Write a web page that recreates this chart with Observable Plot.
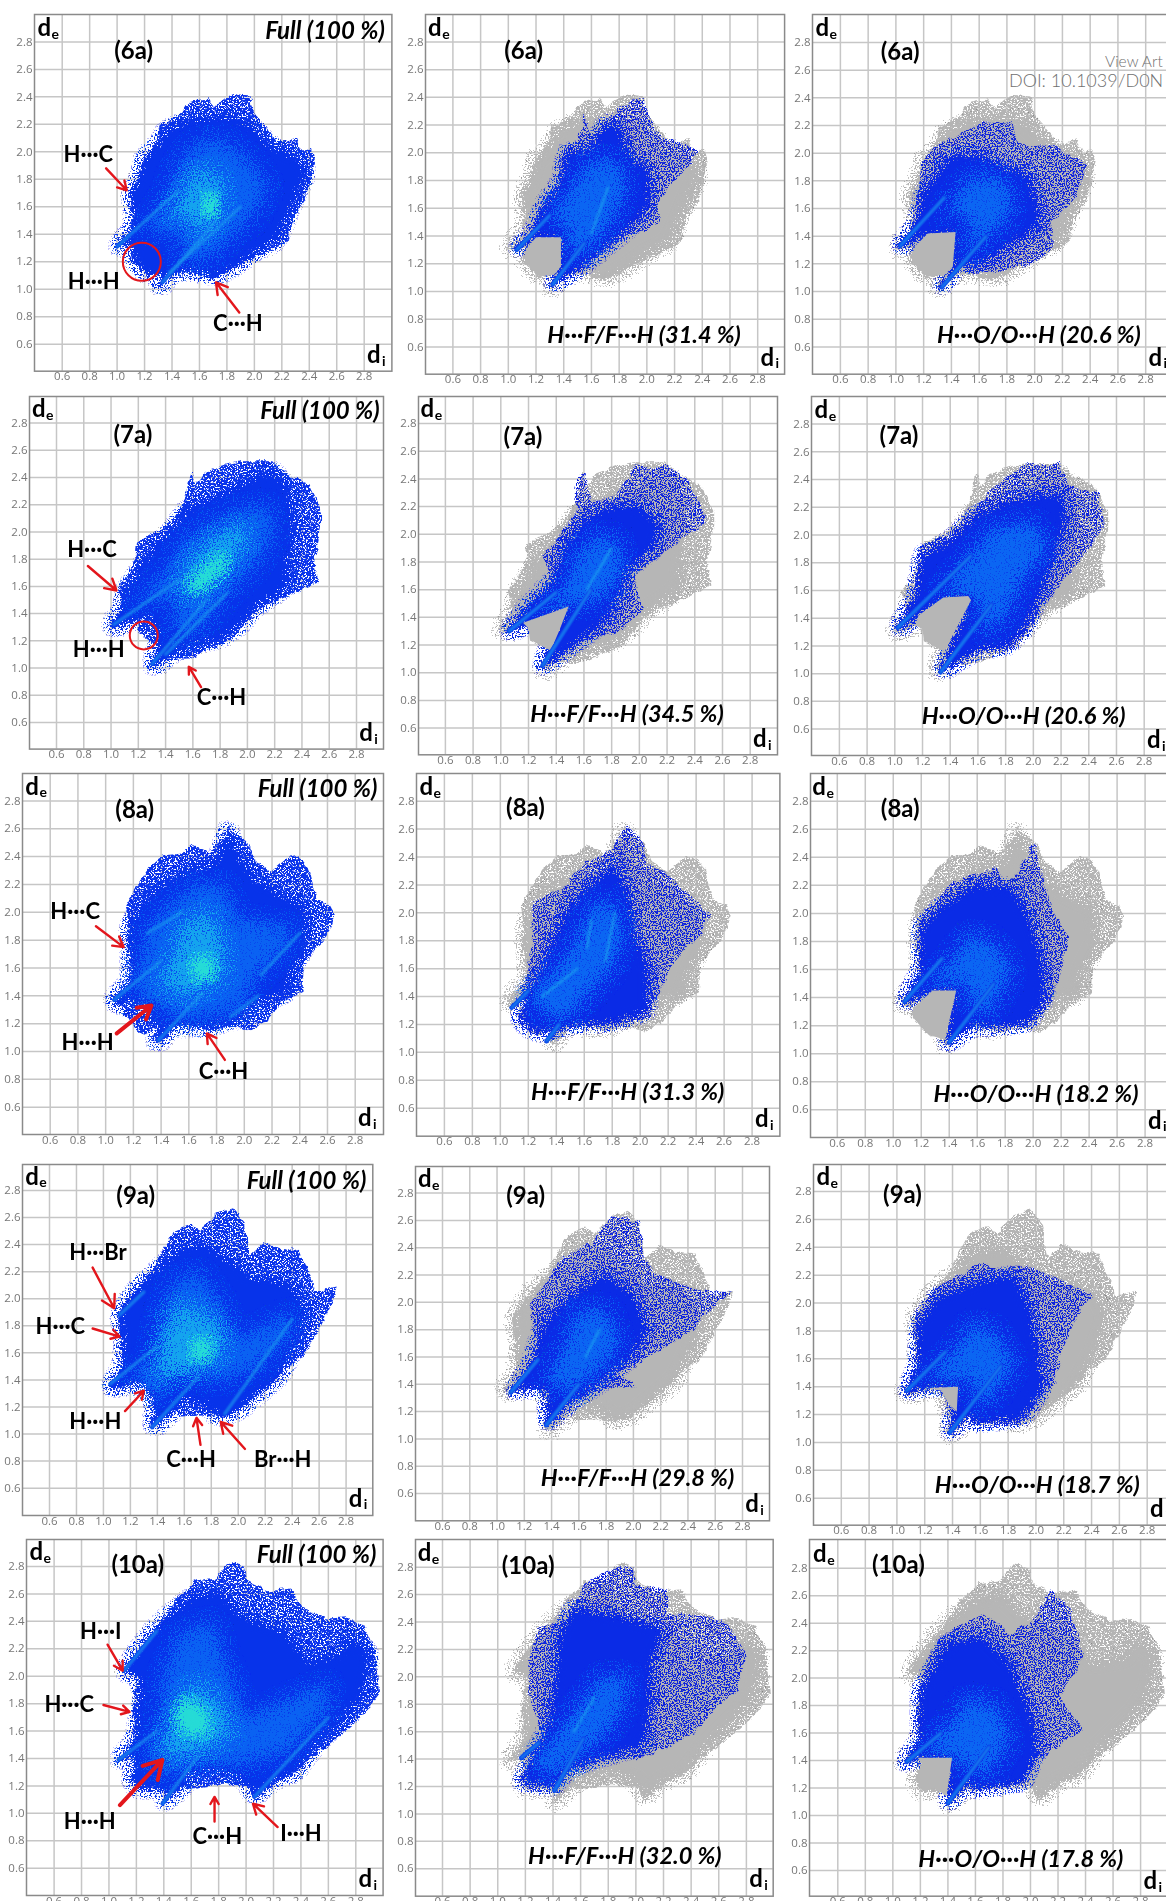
<!DOCTYPE html>
<html><head><meta charset="utf-8">
<script src="https://cdn.jsdelivr.net/npm/d3@7"></script>
<script src="https://cdn.jsdelivr.net/npm/@observablehq/plot@0.6"></script>
<style>
html,body{margin:0;padding:0;background:#fff;overflow:hidden}
#root{position:relative;width:1166px;height:1901px;overflow:hidden;background:#fff}
#root>svg.p{position:absolute;filter:blur(0.35px)}
.wm{position:absolute;font-family:Lato,sans-serif;font-weight:300;color:#6f6f6f;white-space:nowrap}
</style></head><body>
<svg width="0" height="0" style="position:absolute">
<defs>
<filter id="holes" x="-8%" y="-8%" width="116%" height="116%" color-interpolation-filters="sRGB">
<feTurbulence type="fractalNoise" baseFrequency="0.13" numOctaves="2" seed="4" result="d"/>
<feDisplacementMap in="SourceGraphic" in2="d" scale="6" xChannelSelector="R" yChannelSelector="G" result="s"/>
<feTurbulence type="fractalNoise" baseFrequency="0.62" numOctaves="2" seed="7" result="n"/>
<feColorMatrix in="n" type="matrix" values="0 0 0 0 0 0 0 0 0 0 0 0 0 0 0 14 0 0 0 -5.4" result="m"/>
<feComposite in="s" in2="m" operator="in"/>
</filter>
<filter id="dots" x="-8%" y="-8%" width="116%" height="116%" color-interpolation-filters="sRGB">
<feTurbulence type="fractalNoise" baseFrequency="0.1" numOctaves="2" seed="9" result="d"/>
<feDisplacementMap in="SourceGraphic" in2="d" scale="7" xChannelSelector="R" yChannelSelector="G" result="s"/>
<feTurbulence type="fractalNoise" baseFrequency="0.75" numOctaves="2" seed="11" result="n"/>
<feColorMatrix in="n" type="matrix" values="0 0 0 0 0 0 0 0 0 0 0 0 0 0 0 0 16 0 0 -7.7" result="m"/>
<feComposite in="s" in2="m" operator="in"/>
</filter>
<filter id="grain7" x="-25%" y="-25%" width="150%" height="150%" color-interpolation-filters="sRGB">
<feGaussianBlur in="SourceAlpha" stdDeviation="8" result="b"/>
<feTurbulence type="fractalNoise" baseFrequency="0.8" numOctaves="2" seed="3" result="t"/>
<feColorMatrix in="t" type="matrix" values="0 0 0 0 0 0 0 0 0 0 0 0 0 0 0 3.4 0 0 0 -1.2" result="n"/>
<feComposite in="b" in2="n" operator="arithmetic" k1="0" k2="6" k3="6" k4="-5.5" result="m"/>
<feGaussianBlur in="SourceGraphic" stdDeviation="8" result="c"/>
<feColorMatrix in="c" type="matrix" values="1 0 0 0 0 0 1 0 0 0 0 0 1 0 0 0 0 0 60 0" result="cc"/>
<feComposite in="cc" in2="m" operator="in"/>
</filter>
<filter id="grain4" x="-25%" y="-25%" width="150%" height="150%" color-interpolation-filters="sRGB">
<feGaussianBlur in="SourceAlpha" stdDeviation="5" result="b"/>
<feTurbulence type="fractalNoise" baseFrequency="0.7" numOctaves="2" seed="5" result="t"/>
<feColorMatrix in="t" type="matrix" values="0 0 0 0 0 0 0 0 0 0 0 0 0 0 0 0 3.4 0 0 -1.2" result="n"/>
<feComposite in="b" in2="n" operator="arithmetic" k1="0" k2="6" k3="6" k4="-4.2" result="m"/>
<feGaussianBlur in="SourceGraphic" stdDeviation="5" result="c"/>
<feColorMatrix in="c" type="matrix" values="1 0 0 0 0 0 1 0 0 0 0 0 1 0 0 0 0 0 60 0" result="cc"/>
<feComposite in="cc" in2="m" operator="in"/>
</filter>
</defs></svg>
<div id="root"></div>
<script>
const tickValues=[0.6,0.8,1.0,1.2,1.4,1.6,1.8,2.0,2.2,2.4,2.6,2.8];
const compounds=["(6a)","(7a)","(8a)","(9a)","(10a)"];
const ffLabels=["H···F/F···H (31.4 %)","H···F/F···H (34.5 %)","H···F/F···H (31.3 %)","H···F/F···H (29.8 %)","H···F/F···H (32.0 %)"];
const ooLabels=["H···O/O···H (20.6 %)","H···O/O···H (20.6 %)","H···O/O···H (18.2 %)","H···O/O···H (18.7 %)","H···O/O···H (17.8 %)"];

// Fingerprint outlines, [di, de]
const outline6a=[[.99,1.31],[1.11,1.43],[1.11,1.55],[1.10,1.65],[1.09,1.72],[1.13,1.77],[1.18,1.87],[1.2,1.96],[1.29,2.08],[1.32,2.2],[1.39,2.24],[1.46,2.27],[1.52,2.36],[1.66,2.39],[1.71,2.33],[1.8,2.4],[1.85,2.42],[1.97,2.41],[2.0,2.28],[2.12,2.14],[2.16,2.06],[2.3,2.1],[2.35,2.01],[2.42,2.02],[2.44,1.94],[2.41,1.82],[2.37,1.65],[2.29,1.53],[2.24,1.35],[2.07,1.26],[1.85,1.16],[1.73,1.09],[1.67,1.1],[1.5,1.13],[1.38,1.11],[1.31,1.0],[1.29,1.03],[1.33,1.11],[1.3,1.12],[1.22,1.1],[1.17,1.16],[1.11,1.2],[1.1,1.26],[1.13,1.32],[1.08,1.33],[1.04,1.3]];
const body6a=[[1.0,1.31],[1.12,1.44],[1.12,1.6],[1.1,1.7],[1.15,1.77],[1.2,1.95],[1.3,2.05],[1.36,2.15],[1.5,2.22],[1.7,2.25],[1.85,2.25],[1.95,2.2],[2.1,2.05],[2.3,1.95],[2.38,1.85],[2.3,1.7],[2.22,1.5],[2.15,1.35],[2.0,1.28],[1.85,1.17],[1.72,1.1],[1.5,1.14],[1.38,1.11],[1.32,1.02],[1.3,1.04],[1.34,1.12],[1.23,1.11],[1.12,1.21],[1.12,1.3],[1.08,1.34],[1.04,1.31]];
const mid6a=[[1.2,1.45],[1.35,1.65],[1.42,1.85],[1.55,2.05],[1.75,2.1],[1.95,1.95],[2.1,1.75],[2.0,1.55],[1.85,1.4],[1.7,1.25],[1.55,1.2],[1.45,1.2],[1.5,1.4],[1.35,1.4]];
const core6a=[[1.38,1.55],[1.5,1.7],[1.55,1.85],[1.7,1.85],[1.78,1.72],[1.72,1.5],[1.6,1.4],[1.55,1.5],[1.45,1.55]];
const hot6a=[[1.66,1.68],[1.73,1.66],[1.7,1.55],[1.63,1.55],[1.64,1.64]];
const streaks6a=[[1.0,1.31,1.45,1.72],[1.33,1.05,1.72,1.5],[1.38,1.12,1.9,1.6]];

const outline7a=[[.99,1.32],[1.07,1.41],[1.08,1.51],[1.05,1.58],[1.12,1.68],[1.18,1.82],[1.19,1.92],[1.34,2.01],[1.44,2.07],[1.54,2.24],[1.59,2.45],[1.62,2.36],[1.69,2.44],[1.86,2.5],[1.95,2.52],[2.07,2.52],[2.18,2.52],[2.27,2.44],[2.46,2.34],[2.54,2.17],[2.54,2.04],[2.49,1.78],[2.52,1.63],[2.37,1.56],[2.07,1.43],[1.98,1.33],[1.88,1.2],[1.78,1.16],[1.66,1.11],[1.58,1.07],[1.48,1.07],[1.4,1.08],[1.32,1.0],[1.29,1.04],[1.35,1.16],[1.29,1.2],[1.21,1.24],[1.2,1.32],[1.27,1.38],[1.2,1.36],[1.14,1.34],[1.07,1.32],[1.03,1.28]];
const body7a=[[1.0,1.32],[1.08,1.42],[1.1,1.55],[1.2,1.7],[1.3,1.85],[1.44,2.0],[1.55,2.15],[1.65,2.2],[1.95,2.35],[2.18,2.45],[2.3,2.3],[2.33,2.1],[2.3,1.85],[2.28,1.6],[2.05,1.45],[1.95,1.33],[1.8,1.22],[1.6,1.18],[1.45,1.12],[1.32,1.01],[1.3,1.04],[1.35,1.16],[1.34,1.3],[1.27,1.38],[1.2,1.36],[1.08,1.33],[1.03,1.29]];
const mid7a=[[1.15,1.45],[1.4,1.7],[1.5,1.9],[1.7,2.05],[1.9,2.15],[2.15,2.2],[2.2,2.0],[2.05,1.75],[1.85,1.55],[1.7,1.35],[1.5,1.2],[1.45,1.4],[1.55,1.5],[1.35,1.5]];
const core7a=[[1.5,1.6],[1.6,1.8],[1.75,1.95],[1.95,2.05],[2.0,1.95],[1.85,1.75],[1.7,1.6],[1.6,1.5]];
const hot7a=[[1.58,1.62],[1.65,1.68],[1.8,1.82],[1.84,1.76],[1.7,1.62],[1.62,1.57]];
const streaks7a=[[1.02,1.32,1.5,1.65],[1.3,1.03,1.7,1.5],[1.4,1.1,1.85,1.55]];

const outline8a=[[1.05,1.37],[1.18,1.5],[1.18,1.69],[1.15,1.76],[1.17,1.88],[1.15,2.03],[1.2,2.15],[1.3,2.31],[1.42,2.41],[1.54,2.42],[1.62,2.49],[1.75,2.43],[1.85,2.52],[1.9,2.64],[1.91,2.57],[2.02,2.52],[2.09,2.36],[2.19,2.29],[2.31,2.39],[2.39,2.41],[2.47,2.31],[2.52,2.1],[2.61,2.05],[2.65,1.98],[2.6,1.83],[2.43,1.64],[2.42,1.43],[2.28,1.36],[2.14,1.21],[2.02,1.15],[1.95,1.18],[1.78,1.16],[1.72,1.15],[1.68,1.19],[1.51,1.19],[1.42,1.09],[1.37,1.05],[1.36,1.08],[1.32,1.08],[1.38,1.17],[1.27,1.12],[1.21,1.17],[1.13,1.26],[1.13,1.32],[1.19,1.39],[1.12,1.33],[1.07,1.35]];
const body8a=[[1.05,1.37],[1.18,1.5],[1.18,1.7],[1.17,1.88],[1.25,2.05],[1.4,2.2],[1.6,2.3],[1.8,2.35],[1.88,2.6],[1.95,2.4],[2.1,2.2],[2.3,2.1],[2.42,2.05],[2.45,1.8],[2.35,1.6],[2.3,1.42],[2.05,1.35],[1.95,1.25],[1.72,1.17],[1.5,1.2],[1.37,1.06],[1.36,1.09],[1.42,1.2],[1.3,1.3],[1.25,1.38],[1.19,1.39],[1.12,1.33]];
const mid8a=[[1.2,1.42],[1.3,1.88],[1.45,2.05],[1.65,2.2],[1.85,2.2],[1.95,1.95],[2.35,1.9],[2.3,1.75],[2.05,1.5],[2.0,1.3],[1.75,1.25],[1.55,1.22],[1.35,1.35]];
const core8a=[[1.4,1.5],[1.5,1.7],[1.55,1.9],[1.75,2.0],[1.85,1.75],[1.85,1.55],[1.7,1.45],[1.55,1.4]];
const hot8a=[[1.62,1.62],[1.72,1.68],[1.78,1.58],[1.68,1.52]];
const streaks8a=[[1.06,1.37,1.4,1.65],[1.3,1.85,1.55,2.0],[1.38,1.08,1.7,1.42],[2.12,1.55,2.4,1.85],[1.9,1.25,2.1,1.4]];

const outline9a=[[1.05,1.36],[1.14,1.48],[1.13,1.63],[1.12,1.75],[1.11,1.88],[1.17,1.98],[1.25,2.07],[1.37,2.22],[1.45,2.37],[1.52,2.5],[1.65,2.55],[1.72,2.5],[1.76,2.55],[1.84,2.63],[1.96,2.67],[2.05,2.56],[2.08,2.32],[2.19,2.42],[2.3,2.37],[2.45,2.36],[2.55,2.13],[2.56,2.05],[2.73,2.09],[2.7,1.98],[2.6,1.78],[2.49,1.58],[2.38,1.51],[2.21,1.34],[1.96,1.15],[1.86,1.12],[1.84,1.14],[1.57,1.13],[1.52,1.18],[1.37,1.05],[1.34,1.08],[1.39,1.16],[1.36,1.27],[1.3,1.38],[1.22,1.38],[1.08,1.34]];
const body9a=[[1.05,1.36],[1.14,1.48],[1.15,1.63],[1.15,1.75],[1.12,1.88],[1.25,2.07],[1.4,2.2],[1.55,2.35],[1.75,2.4],[1.9,2.3],[2.1,2.15],[2.4,2.1],[2.5,1.9],[2.4,1.62],[2.3,1.43],[2.0,1.18],[1.85,1.13],[1.75,1.25],[1.55,1.25],[1.52,1.18],[1.38,1.05],[1.36,1.1],[1.39,1.16],[1.36,1.27],[1.3,1.38],[1.22,1.38],[1.08,1.34]];
const mid9a=[[1.2,1.45],[1.35,1.55],[1.4,1.8],[1.5,2.1],[1.7,2.2],[1.85,2.0],[2.0,1.7],[2.4,1.9],[2.4,1.75],[2.15,1.5],[1.9,1.4],[1.5,1.42],[1.45,1.25]];
const core9a=[[1.4,1.45],[1.45,1.75],[1.55,1.95],[1.75,1.9],[1.9,1.75],[1.85,1.55],[1.7,1.48],[1.5,1.42]];
const hot9a=[[1.65,1.6],[1.72,1.7],[1.8,1.63],[1.72,1.55]];
const streaks9a=[[1.05,1.37,1.4,1.65],[1.12,1.88,1.3,2.05],[1.36,1.05,1.7,1.42],[1.9,1.15,2.4,1.85]];

const outline10a=[[1.07,1.39],[1.18,1.51],[1.18,1.63],[1.18,1.85],[1.22,1.99],[1.18,2.03],[1.11,2.04],[1.26,2.26],[1.36,2.36],[1.48,2.55],[1.62,2.69],[1.77,2.71],[1.87,2.83],[1.99,2.8],[2.01,2.69],[2.16,2.62],[2.33,2.64],[2.42,2.5],[2.59,2.42],[2.74,2.43],[2.86,2.36],[2.94,2.18],[2.97,1.87],[2.84,1.7],[2.64,1.53],[2.47,1.41],[2.35,1.29],[2.25,1.25],[2.06,1.12],[2.01,1.19],[1.81,1.21],[1.57,1.18],[1.55,1.21],[1.39,1.07],[1.44,1.17],[1.28,1.19],[1.22,1.17],[1.16,1.26],[1.21,1.39],[1.15,1.42],[1.09,1.39]];
const body10a=[[1.07,1.39],[1.18,1.51],[1.2,1.6],[1.25,1.85],[1.22,2.0],[1.11,2.04],[1.3,2.3],[1.45,2.45],[1.62,2.58],[1.8,2.6],[1.95,2.45],[2.05,2.4],[2.3,2.3],[2.45,2.1],[2.7,2.15],[2.75,2.3],[2.9,2.15],[2.85,1.9],[2.75,1.75],[2.5,1.5],[2.35,1.3],[2.2,1.25],[2.06,1.13],[2.0,1.25],[1.85,1.3],[1.55,1.3],[1.55,1.21],[1.39,1.07],[1.44,1.17],[1.28,1.19],[1.22,1.17],[1.16,1.26],[1.21,1.39],[1.15,1.42],[1.09,1.39]];
const mid10a=[[1.25,1.45],[1.35,1.6],[1.4,2.0],[1.5,2.3],[1.75,2.4],[1.85,2.1],[2.0,1.7],[2.6,1.95],[2.6,1.75],[2.3,1.45],[2.0,1.35],[1.6,1.35],[1.45,1.25],[1.35,1.35]];
const core10a=[[1.4,1.45],[1.45,1.65],[1.55,1.85],[1.65,1.95],[1.8,1.8],[1.9,1.6],[1.7,1.47],[1.5,1.42]];
const hot10a=[[1.5,1.7],[1.55,1.82],[1.68,1.75],[1.72,1.6],[1.58,1.58]];
const streaks10a=[[1.11,2.04,1.35,2.33],[1.07,1.39,1.35,1.6],[1.39,1.07,1.65,1.42],[2.06,1.12,2.6,1.7]];

// H···F/F···H regions
const ffOuter6a=[[1.03,1.29],[1.17,1.44],[1.22,1.6],[1.3,1.72],[1.37,1.8],[1.38,2.0],[1.5,2.1],[1.55,2.27],[1.6,2.1],[1.68,2.2],[1.75,2.27],[1.8,2.32],[1.97,2.41],[2.02,2.25],[2.1,2.12],[2.25,2.07],[2.38,2.02],[2.3,1.9],[2.15,1.75],[2.07,1.62],[2.1,1.5],[2.02,1.45],[1.85,1.4],[1.7,1.3],[1.55,1.17],[1.3,1.03],[1.3,1.05],[1.38,1.18],[1.38,1.39],[1.2,1.39],[1.06,1.29]];
const ffBody6a=[[1.05,1.3],[1.18,1.42],[1.25,1.6],[1.38,1.78],[1.42,2.0],[1.6,2.02],[1.7,2.2],[1.78,2.22],[1.85,2.0],[2.02,1.85],[2.0,1.6],[1.85,1.45],[1.7,1.33],[1.52,1.18],[1.32,1.05],[1.38,1.2],[1.38,1.39],[1.2,1.39]];
const ffCore6a=[[1.3,1.55],[1.45,1.75],[1.6,1.95],[1.8,1.95],[1.85,1.75],[1.75,1.5],[1.62,1.35],[1.5,1.25],[1.42,1.3],[1.45,1.45],[1.35,1.5]];
const ffStreaks6a=[[1.06,1.3,1.3,1.55],[1.32,1.05,1.55,1.35],[1.6,1.42,1.72,1.75]];
const ffGap6a=[[1.2,1.39],[1.38,1.39],[1.38,1.18],[1.33,1.12],[1.22,1.11],[1.12,1.21],[1.12,1.28],[1.14,1.32]];

const ffOuter7a=[[1.03,1.28],[1.19,1.48],[1.37,1.65],[1.3,1.84],[1.41,1.97],[1.53,2.14],[1.55,2.4],[1.61,2.45],[1.65,2.25],[1.82,2.25],[1.97,2.5],[2.07,2.47],[2.2,2.5],[2.35,2.4],[2.49,2.1],[2.18,1.87],[1.97,1.72],[2.0,1.52],[2.04,1.46],[1.83,1.29],[1.58,1.22],[1.37,1.07],[1.28,1.03],[1.49,1.48],[1.44,1.46],[1.05,1.28]];
const ffBody7a=[[1.05,1.29],[1.2,1.48],[1.4,1.68],[1.45,1.9],[1.6,2.1],[1.8,2.2],[2.0,2.2],[2.15,2.05],[2.1,1.9],[1.9,1.75],[1.85,1.55],[1.75,1.38],[1.58,1.25],[1.38,1.1],[1.29,1.04],[1.49,1.5],[1.44,1.46]];
const ffCore7a=[[1.2,1.42],[1.45,1.6],[1.55,1.85],[1.7,2.0],[1.85,1.95],[1.88,1.75],[1.75,1.55],[1.62,1.5],[1.5,1.5]];
const ffStreaks7a=[[1.06,1.3,1.4,1.58],[1.3,1.05,1.65,1.6],[1.62,1.6,1.8,1.9]];
const ffGap7a=[[1.16,1.36],[1.44,1.46],[1.49,1.48],[1.42,1.3],[1.36,1.16],[1.28,1.2],[1.21,1.24],[1.2,1.32]];

const ffOuter8a=[[1.08,1.32],[1.16,1.43],[1.18,1.5],[1.21,1.65],[1.23,1.86],[1.23,2.08],[1.44,2.17],[1.61,2.36],[1.78,2.44],[1.9,2.62],[2.0,2.55],[2.07,2.33],[2.17,2.3],[2.38,2.1],[2.5,1.98],[2.42,1.84],[2.22,1.62],[2.13,1.41],[2.06,1.25],[1.79,1.19],[1.47,1.18],[1.33,1.08],[1.38,1.2],[1.25,1.12],[1.13,1.21],[1.13,1.27],[1.2,1.41],[1.1,1.32]];
const ffBody8a=[[1.14,1.24],[1.2,1.42],[1.3,1.6],[1.4,1.85],[1.5,2.05],[1.65,2.2],[1.82,2.35],[1.92,2.1],[1.95,1.85],[2.05,1.6],[2.05,1.3],[1.8,1.22],[1.5,1.2],[1.35,1.15],[1.25,1.15]];
const ffCore8a=[[1.2,1.4],[1.35,1.55],[1.55,1.8],[1.65,2.05],[1.8,2.1],[1.88,1.85],[1.8,1.6],[1.65,1.45],[1.5,1.25],[1.35,1.25]];
const ffStreaks8a=[[1.08,1.32,1.2,1.44],[1.33,1.08,1.42,1.2],[1.62,1.75,1.65,1.95],[1.75,1.65,1.82,2.0],[1.3,1.4,1.55,1.6]];
const ffGap8a=[];

const ffOuter9a=[[1.1,1.34],[1.26,1.51],[1.3,1.63],[1.24,1.98],[1.47,2.32],[1.69,2.44],[1.84,2.63],[2.04,2.6],[2.08,2.36],[2.15,2.21],[2.43,2.1],[2.73,2.08],[2.6,1.98],[2.41,1.78],[2.23,1.67],[2.01,1.53],[1.87,1.48],[2.03,1.39],[1.8,1.36],[1.51,1.27],[1.35,1.09],[1.37,1.2],[1.37,1.36],[1.2,1.37],[1.2,1.4],[1.12,1.34]];
const ffBody9a=[[1.12,1.35],[1.25,1.55],[1.35,1.85],[1.55,2.05],[1.8,2.2],[2.0,2.05],[2.1,1.8],[1.95,1.58],[1.8,1.45],[1.55,1.28],[1.37,1.12],[1.37,1.36],[1.2,1.37]];
const ffCore9a=[[1.35,1.4],[1.5,1.7],[1.6,1.95],[1.8,1.95],[1.9,1.7],[1.75,1.5],[1.55,1.35]];
const ffStreaks9a=[[1.1,1.34,1.3,1.58],[1.36,1.1,1.6,1.4],[1.65,1.6,1.75,1.8]];
const ffGap9a=[];

const ffOuter10a=[[1.16,1.4],[1.32,1.56],[1.23,1.85],[1.22,2.09],[1.29,2.36],[1.5,2.42],[1.64,2.69],[1.85,2.8],[1.99,2.8],[1.99,2.68],[2.22,2.63],[2.24,2.46],[2.55,2.44],[2.66,2.39],[2.8,2.17],[2.73,1.9],[2.56,1.76],[2.42,1.59],[2.28,1.51],[2.06,1.41],[1.78,1.39],[1.53,1.32],[1.41,1.17],[1.4,1.2],[1.29,1.2],[1.25,1.16],[1.17,1.22],[1.16,1.27],[1.27,1.44],[1.18,1.4]];
const ffBody10a=[[1.17,1.23],[1.28,1.45],[1.38,1.65],[1.42,2.0],[1.45,2.3],[1.55,2.5],[1.8,2.45],[2.2,2.35],[2.1,2.1],[2.1,1.8],[2.05,1.5],[1.75,1.42],[1.5,1.33],[1.4,1.2],[1.3,1.22]];
const ffCore10a=[[1.25,1.35],[1.4,1.55],[1.6,1.8],[1.75,2.0],[1.95,2.0],[1.9,1.75],[1.75,1.55],[1.55,1.4],[1.4,1.28]];
const ffStreaks10a=[[1.17,1.41,1.3,1.52],[1.41,1.17,1.62,1.55],[1.55,1.6,1.7,1.85]];
const ffGap10a=[];

// H···O/O···H regions
const ooOuter6a=[[.99,1.31],[1.13,1.46],[1.14,1.55],[1.15,1.67],[1.19,1.95],[1.27,2.04],[1.38,2.1],[1.62,2.23],[1.84,2.22],[1.87,2.09],[1.97,2.05],[2.12,2.06],[2.38,1.92],[2.3,1.68],[2.13,1.52],[2.13,1.3],[1.97,1.19],[1.69,1.14],[1.53,1.14],[1.47,1.2],[1.31,1.0],[1.3,1.02],[1.41,1.18],[1.43,1.43],[1.23,1.42],[1.02,1.31]];
const ooBody6a=[[1.02,1.32],[1.15,1.48],[1.2,1.7],[1.3,1.85],[1.4,1.98],[1.6,1.98],[1.75,1.9],[1.95,1.85],[2.0,1.65],[2.05,1.5],[1.9,1.4],[1.75,1.3],[1.6,1.2],[1.45,1.2],[1.32,1.02],[1.41,1.2],[1.43,1.43],[1.23,1.42]];
const ooCore6a=[[1.3,1.5],[1.5,1.8],[1.7,1.85],[1.85,1.7],[1.8,1.5],[1.65,1.4],[1.5,1.25],[1.55,1.5],[1.4,1.6]];
const ooStreaks6a=[[1.03,1.33,1.35,1.68],[1.33,1.03,1.65,1.4]];
const ooGap6a=[[1.23,1.42],[1.43,1.43],[1.41,1.18],[1.35,1.12],[1.22,1.11],[1.12,1.21],[1.12,1.28],[1.14,1.33]];

const ooOuter7a=[[1.0,1.32],[1.13,1.54],[1.15,1.6],[1.17,1.92],[1.41,2.0],[1.55,2.18],[1.76,2.38],[1.95,2.52],[2.05,2.5],[2.19,2.52],[2.26,2.35],[2.46,2.32],[2.52,2.06],[2.45,1.97],[2.27,1.73],[2.15,1.58],[2.07,1.49],[1.98,1.34],[1.84,1.17],[1.59,1.17],[1.33,1.0],[1.32,1.02],[1.55,1.53],[1.53,1.56],[1.35,1.55],[1.17,1.42],[1.03,1.31]];
const ooBody7a=[[1.02,1.32],[1.15,1.55],[1.2,1.85],[1.4,1.95],[1.6,2.15],[1.85,2.25],[2.2,2.3],[2.23,2.1],[2.13,1.8],[2.05,1.6],[1.95,1.35],[1.8,1.2],[1.6,1.18],[1.34,1.02],[1.55,1.53],[1.35,1.55],[1.17,1.42]];
const ooCore7a=[[1.3,1.55],[1.5,1.8],[1.7,2.05],[2.0,2.1],[2.1,1.9],[1.9,1.65],[1.8,1.4],[1.65,1.3],[1.6,1.55],[1.45,1.6]];
const ooStreaks7a=[[1.02,1.33,1.55,1.85],[1.33,1.01,1.7,1.5]];
const ooGap7a=[[1.17,1.42],[1.35,1.55],[1.53,1.56],[1.55,1.53],[1.42,1.28],[1.36,1.16],[1.28,1.2],[1.21,1.24],[1.2,1.32],[1.15,1.35]];

const ooOuter8a=[[1.06,1.36],[1.19,1.53],[1.2,1.58],[1.18,1.9],[1.2,2.0],[1.31,2.08],[1.42,2.22],[1.73,2.32],[1.8,2.2],[1.87,2.27],[2.01,2.5],[2.05,2.36],[2.12,2.05],[2.26,1.82],[2.17,1.5],[2.12,1.34],[1.98,1.2],[1.63,1.18],[1.58,1.22],[1.37,1.05],[1.45,1.45],[1.28,1.45],[1.09,1.35]];
const ooBody8a=[[1.08,1.37],[1.2,1.6],[1.2,1.9],[1.35,2.05],[1.6,2.2],[1.85,2.18],[1.95,2.0],[2.05,1.7],[2.08,1.4],[1.95,1.22],[1.65,1.19],[1.6,1.22],[1.38,1.07],[1.45,1.45],[1.28,1.45]];
const ooCore8a=[[1.2,1.45],[1.4,1.65],[1.55,1.85],[1.7,1.8],[1.85,1.6],[1.75,1.4],[1.65,1.25],[1.55,1.4],[1.5,1.52],[1.35,1.5]];
const ooStreaks8a=[[1.08,1.37,1.35,1.68],[1.4,1.08,1.72,1.5]];
const ooGap8a=[[1.28,1.45],[1.45,1.45],[1.37,1.1],[1.27,1.13],[1.21,1.18],[1.14,1.26],[1.14,1.32]];

const ooOuter9a=[[1.05,1.36],[1.14,1.53],[1.13,1.91],[1.26,2.1],[1.51,2.23],[1.62,2.29],[1.74,2.24],[1.93,2.27],[2.1,2.2],[2.4,2.06],[2.3,1.91],[2.17,1.62],[2.14,1.43],[2.03,1.33],[1.93,1.17],[1.86,1.13],[1.55,1.13],[1.52,1.22],[1.37,1.05],[1.44,1.4],[1.21,1.4],[1.09,1.35]];
const ooBody9a=[[1.07,1.37],[1.15,1.55],[1.16,1.85],[1.3,2.05],[1.6,2.15],[1.85,2.2],[1.95,1.95],[2.0,1.7],[2.05,1.4],[1.9,1.18],[1.56,1.14],[1.52,1.22],[1.38,1.07],[1.44,1.4],[1.21,1.4]];
const ooCore9a=[[1.2,1.45],[1.4,1.65],[1.55,1.85],[1.7,1.8],[1.85,1.55],[1.7,1.35],[1.6,1.25],[1.55,1.45],[1.4,1.45]];
const ooStreaks9a=[[1.07,1.37,1.35,1.65],[1.38,1.07,1.75,1.55]];
const ooGap9a=[[1.22,1.39],[1.44,1.4],[1.43,1.22],[1.37,1.28],[1.32,1.37]];

const ooOuter10a=[[1.07,1.38],[1.18,1.52],[1.17,1.62],[1.18,1.95],[1.33,2.27],[1.47,2.38],[1.68,2.47],[1.86,2.32],[2.03,2.44],[2.14,2.64],[2.28,2.52],[2.39,2.15],[2.21,1.86],[2.38,1.62],[2.03,1.38],[1.93,1.23],[1.58,1.18],[1.56,1.27],[1.39,1.07],[1.43,1.42],[1.18,1.42],[1.12,1.38]];
const ooBody10a=[[1.08,1.38],[1.2,1.55],[1.2,1.9],[1.4,2.25],[1.65,2.3],[1.85,2.1],[1.98,1.8],[2.05,1.5],[1.95,1.25],[1.6,1.19],[1.56,1.27],[1.4,1.09],[1.43,1.42],[1.18,1.42]];
const ooCore10a=[[1.2,1.45],[1.4,1.65],[1.55,1.85],[1.75,1.8],[1.85,1.55],[1.7,1.3],[1.55,1.35],[1.4,1.45]];
const ooStreaks10a=[[1.1,1.39,1.35,1.6],[1.4,1.09,1.7,1.5]];
const ooGap10a=[[1.18,1.42],[1.43,1.42],[1.39,1.14],[1.3,1.2],[1.22,1.18],[1.17,1.26],[1.21,1.38]];

// Annotations [text, di, de]
const notes6a=[["H···C",.79,1.98],["H···H",.83,1.05],["C···H",1.88,.75]];
const notes7a=[["H···C",.86,1.87],["H···H",.91,1.13],["C···H",1.81,.78]];
const notes8a=[["H···C",.78,2.0],["H···H",.87,1.06],["C···H",1.85,.85]];
const notes9a=[["H···Br",.96,2.34],["H···C",.68,1.79],["H···H",.94,1.09],["C···H",1.65,.81],["Br···H",2.33,.81]];
const notes10a=[["H···I",.94,2.32],["H···C",.71,1.79],["H···H",.86,.94],["C···H",1.79,.83],["I···H",2.4,.85]];
// Arrows [di1, de1, di2, de2, thick]
const arrows6a=[[.92,1.88,1.07,1.72,0],[1.89,.83,1.72,1.05,0]];
const arrows7a=[[.83,1.75,1.04,1.57,0],[1.66,.86,1.57,1.01,0]];
const arrows8a=[[.93,1.9,1.13,1.75,0],[1.08,1.13,1.33,1.33,1],[1.86,.94,1.73,1.13,0]];
const arrows9a=[[.92,2.23,1.08,1.93,0],[.92,1.78,1.12,1.72,0],[1.16,1.17,1.3,1.32,0],[1.72,.92,1.69,1.12,0],[2.05,.89,1.87,1.09,0]];
const arrows10a=[[.99,2.23,1.1,2.04,0],[.96,1.79,1.15,1.74,0],[1.08,1.06,1.39,1.39,1],[1.77,.94,1.77,1.12,0],[2.23,.9,2.05,1.07,0]];
const rings6a=[[1.18,1.2]];
const rings7a=[[1.24,1.24]];

// Positions of the text in each panel
const fullTagPos=[[1.12,2.73],[1.16,2.71],[1.21,2.73],[1.24,2.76],[1.21,2.81]];
const fullLabelPos=[[2.95,2.88],[2.97,2.89],[2.96,2.88],[2.95,2.87],[2.95,2.88]];
const ffTagPos=[[1.11,2.73],[1.16,2.7],[1.18,2.75],[1.21,2.78],[1.22,2.81]];
const ooTagPos=[[1.03,2.73],[1.03,2.71],[1.05,2.74],[1.04,2.77],[1.04,2.82]];
const ffLabelPos=[[1.98,.68],[1.91,.7],[1.91,.71],[2.03,.71],[1.92,.69]];
const ooLabelPos=[[2.03,.68],[1.93,.69],[2.02,.71],[2.01,.69],[1.93,.68]];

// Page layout: left, right, top, bottom, x at 0.6, x at 2.8, y at 2.8, y at 0.6
const frames=[
[[34.3,391.7,14.3,371,62,364,41.7,344],[425.4,784.5,14.3,374,452.8,757.6,41.7,346.7],[811.8,1172,14.3,374,839.7,1145,42.3,346.7]],
[[28.7,382.7,395.7,748.3,55.7,355.7,422.3,721.7],[417.6,776.6,395.7,754,444.5,749.3,422.7,727.3],[811.3,1170,395.7,754.7,839.2,1144,423.3,728.3]],
[[22.3,383.3,773.3,1134.3,50,355,800.7,1107],[415.6,779,773,1135.7,443.5,751.2,800.7,1107.7],[810.4,1170,773,1137,837.2,1145,800.7,1109.3]],
[[21.7,372,1164,1515,48.7,345.3,1190,1487.7],[415,769,1165.7,1520,442,742,1192.3,1492.7],[812.8,1171,1164,1524.7,840.6,1146.5,1191,1497.7]],
[[25.7,382.3,1539,1895,53.3,355,1566,1867.7],[415,772.7,1539,1895.7,442,745.9,1566.7,1868.3],[808.9,1168,1539,1895.7,837.2,1140,1567.7,1870]]
];

const fullData=[
{outline:outline6a,body:body6a,mid:mid6a,core:core6a,hot:hot6a,streaks:streaks6a,notes:notes6a,arrows:arrows6a,rings:rings6a,ringR:19},
{outline:outline7a,body:body7a,mid:mid7a,core:core7a,hot:hot7a,streaks:streaks7a,notes:notes7a,arrows:arrows7a,rings:rings7a,ringR:14},
{outline:outline8a,body:body8a,mid:mid8a,core:core8a,hot:hot8a,streaks:streaks8a,notes:notes8a,arrows:arrows8a,rings:[],ringR:0},
{outline:outline9a,body:body9a,mid:mid9a,core:core9a,hot:hot9a,streaks:streaks9a,notes:notes9a,arrows:arrows9a,rings:[],ringR:0},
{outline:outline10a,body:body10a,mid:mid10a,core:core10a,hot:hot10a,streaks:streaks10a,notes:notes10a,arrows:arrows10a,rings:[],ringR:0}
];
const ffData=[
{outer:ffOuter6a,body:ffBody6a,core:ffCore6a,streaks:ffStreaks6a,gap:ffGap6a},
{outer:ffOuter7a,body:ffBody7a,core:ffCore7a,streaks:ffStreaks7a,gap:ffGap7a},
{outer:ffOuter8a,body:ffBody8a,core:ffCore8a,streaks:ffStreaks8a,gap:ffGap8a},
{outer:ffOuter9a,body:ffBody9a,core:ffCore9a,streaks:ffStreaks9a,gap:ffGap9a},
{outer:ffOuter10a,body:ffBody10a,core:ffCore10a,streaks:ffStreaks10a,gap:ffGap10a}
];
const ooData=[
{outer:ooOuter6a,body:ooBody6a,core:ooCore6a,streaks:ooStreaks6a,gap:ooGap6a},
{outer:ooOuter7a,body:ooBody7a,core:ooCore7a,streaks:ooStreaks7a,gap:ooGap7a},
{outer:ooOuter8a,body:ooBody8a,core:ooCore8a,streaks:ooStreaks8a,gap:ooGap8a},
{outer:ooOuter9a,body:ooBody9a,core:ooCore9a,streaks:ooStreaks9a,gap:ooGap9a},
{outer:ooOuter10a,body:ooBody10a,core:ooCore10a,streaks:ooStreaks10a,gap:ooGap10a}
];

const poly=(pts,fill,filter,opacity=1)=>Plot.line(pts,{x:d=>d[0],y:d=>d[1],fill,fillOpacity:opacity,stroke:"none",curve:"linear-closed",imageFilter:filter});
const streakMark=(rows,color,w,filter,op)=>Plot.link(rows,{x1:d=>d[0],y1:d=>d[1],x2:d=>d[2],y2:d=>d[3],stroke:color,strokeWidth:w,strokeOpacity:op,strokeLinecap:"round",imageFilter:filter});
const FONT="Lato, 'Open Sans', sans-serif";
const textMark=(rows,o)=>Plot.text(rows,{x:d=>d[1],y:d=>d[2],text:d=>d[0],fontFamily:FONT,fontWeight:700,fill:"#000",lineAnchor:"middle",...o});

function chrome(f){
  const [L,R,T,B,x06,x28,y28,y06]=f;
  const ml=26,mr=3,mt=3,mb=18;
  return {L,T,ml,mt,opts:{
    width:R-L+ml+mr,height:B-T+mt+mb,marginLeft:ml,marginRight:mr,marginTop:mt,marginBottom:mb,
    style:{background:"transparent",overflow:"visible"},
    x:{type:"linear",domain:[.6,2.8],range:[x06-L+ml,x28-L+ml]},
    y:{type:"linear",domain:[.6,2.8],range:[y06-T+mt,y28-T+mt]}
  }};
}
const baseBack=()=>[
  Plot.gridX(tickValues,{stroke:"#c6c6c6",strokeOpacity:1,strokeWidth:1.5}),
  Plot.gridY(tickValues,{stroke:"#c6c6c6",strokeOpacity:1,strokeWidth:1.5})
];
const baseFront=()=>[
  Plot.frame({stroke:"#8a8a8a",strokeWidth:1.5}),
  Plot.axisX(tickValues,{anchor:"bottom",tickSize:0,tickPadding:1,tickFormat:d3.format(".1f"),fontSize:11.5,fontFamily:"'Open Sans',sans-serif",fill:"#777",label:null}),
  Plot.axisY(tickValues,{anchor:"left",tickSize:0,tickPadding:2,tickFormat:d3.format(".1f"),fontSize:11.5,fontFamily:"'Open Sans',sans-serif",fill:"#777",label:null}),
  textMark([["d",.47,2.9]],{fontSize:24}),
  textMark([["e",.47,2.9]],{fontSize:14,dx:11,dy:6}),
  textMark([["d",2.87,.52]],{fontSize:24}),
  textMark([["i",2.87,.52]],{fontSize:14,dx:10,dy:6})
];
function place(c,marks){
  const svg=Plot.plot({...c.opts,marks});
  svg.classList.add("p");
  svg.style.left=(c.L-c.ml)+"px";
  svg.style.top=(c.T-c.mt)+"px";
  document.getElementById("root").appendChild(svg);
}
const arrowMark=(rows,w,head)=>Plot.arrow(rows,{x1:d=>d[0],y1:d=>d[1],x2:d=>d[2],y2:d=>d[3],stroke:"#e3161c",strokeWidth:w,headLength:head,bend:0,inset:0});

compounds.forEach((tag,r)=>{
  const F=fullData[r],[ffr,oor]=[ffData[r],ooData[r]];
  const c0=chrome(frames[r][0]);
  place(c0,[
    ...baseBack(),
    poly(F.outline,"#0b34ec","url(#holes)"),
    poly(F.body,"#0733ea","url(#grain4)"),
    streakMark(F.streaks,"#0a40ea",4,undefined,1),
    poly(F.mid,"#0a62f2","url(#grain7)"),
    poly(F.core,"#14a4ee","url(#grain7)"),
    poly(F.hot,"#25dbd6","url(#grain4)"),
    streakMark(F.streaks,"#1c9cf0",2.6,"blur(1.2px)",.7),
    ...baseFront(),
    textMark([[tag,...fullTagPos[r]]],{fontSize:24}),
    textMark([["Full (100 %)",...fullLabelPos[r]]],{fontSize:24,fontStyle:"italic",textAnchor:"end"}),
    textMark(F.notes,{fontSize:22}),
    arrowMark(F.arrows.filter(a=>!a[4]),2.4,9),
    arrowMark(F.arrows.filter(a=>a[4]),4,9),
    Plot.dot(F.rings,{x:d=>d[0],y:d=>d[1],r:F.ringR,stroke:"#e3161c",strokeWidth:2,fill:"none"})
  ]);
  [[ffr,ffTagPos,ffLabelPos,ffLabels],[oor,ooTagPos,ooLabelPos,ooLabels]].forEach(([D,tp,lp,lab],k)=>{
    const c=chrome(frames[r][k+1]);
    place(c,[
      ...baseBack(),
      poly(F.outline,"#b4b4b4","url(#holes)"),
      poly(F.body,"#b6b6b6","url(#grain4)"),
      poly(D.outer,"#0d22dd","url(#dots)"),
      poly(D.body,"#0a2be6","url(#grain4)"),
      poly(D.core,"#0b66f2","url(#grain7)"),
      ...(D.gap.length?[poly(D.gap,"#b6b6b6")]:[]),
      streakMark(D.streaks.slice(0,2),"#0a3cea",4.5,undefined,1),
      streakMark(D.streaks,"#20aef0",2.2,"blur(1px)",.7),
      ...baseFront(),
      textMark([[tag,...tp[r]]],{fontSize:24}),
      textMark([[lab[r],...lp[r]]],{fontSize:23.5,fontStyle:"italic"})
    ]);
  });
});
const root=document.getElementById("root");
[["View Art",1105,52,15.5],["DOI: 10.1039/D0N",1009,69,18]].forEach(([t,x,y,s])=>{
  const d=document.createElement("div");d.className="wm";d.textContent=t;
  d.style.left=x+"px";d.style.top=y+"px";d.style.fontSize=s+"px";root.appendChild(d);
});
</script>
</body></html>
